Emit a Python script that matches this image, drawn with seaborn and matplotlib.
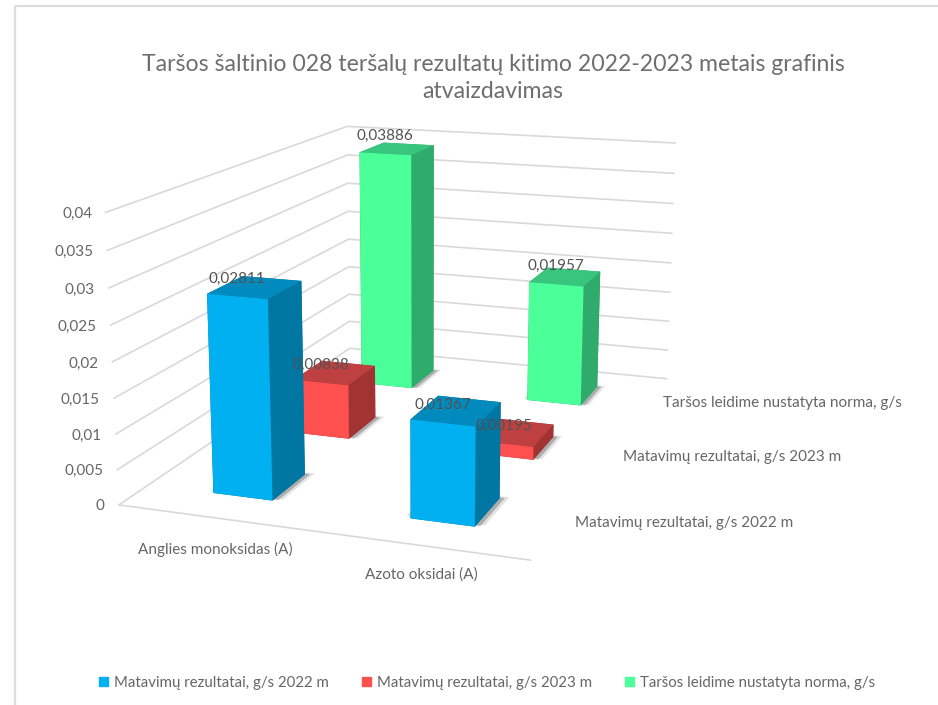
import numpy as np
import pandas as pd
import matplotlib
matplotlib.use('Agg')
import matplotlib.pyplot as plt
from matplotlib.lines import Line2D
from matplotlib.patches import Patch
from mpl_toolkits.mplot3d import Axes3D, proj3d
from mpl_toolkits.mplot3d.art3d import Poly3DCollection
import seaborn as sns

# data
categories = ['Anglies monoksidas (A)', 'Azoto oksidai (A)']
series = ['Matavimų rezultatai, g/s 2022 m', 'Matavimų rezultatai, g/s 2023 m',
          'Taršos leidime nustatyta norma, g/s']
values_2022 = [0.02811, 0.01367]
values_2023 = [0.00838, 0.00195]
values_norm = [0.03886, 0.01957]
z_ticks = [0, 0.005, 0.01, 0.015, 0.02, 0.025, 0.03, 0.035, 0.04]
z_labels = ['0', '0,005', '0,01', '0,015', '0,02', '0,025', '0,03', '0,035', '0,04']
title = 'Taršos šaltinio 028 teršalų rezultatų kitimo 2022-2023 metais grafinis\natvaizdavimas'

W, H = 938, 705
bar_w, bar_d = 0.3084, 0.3975

sns.set_theme(style='white')
plt.rcParams['font.family'] = ['Lato', 'DejaVu Sans']
front = sns.color_palette(['#00B0F0', '#FF5050', '#4BFF99'])
top = sns.color_palette(['#008ABD', '#BF4040', '#38C57D'])
side = sns.color_palette(['#0076A3', '#A23333', '#2FAB6B'])
grey = '#666666'


def put(x, y, s, **kw):
    # text placed in picture pixels
    fig.text(x / W, 1 - y / H, s, color=grey, va='center', **kw)


fig = plt.figure(figsize=(W / 100, H / 100), dpi=100)
ax = fig.add_axes([58.3146 / W, 33.0467 / H, 711.2365 / W, 711.2365 / H], projection='3d', computed_zorder=False)
ax.set_xlim(0, 2, view_margin=0)
ax.set_ylim(0, 3, view_margin=0)
ax.set_zlim(0, 0.04, view_margin=0)
ax.view_init(elev=14.1253, azim=-70.5851)
ax.set_proj_type('persp', focal_length=0.4412)
ax.set_box_aspect((1, 1.4501, 0.6956))
ax.set_axis_off()

# chart frame
fig.add_artist(Line2D([14.5 / W, 14.5 / W, 1], [0, 1 - 6 / H, 1 - 6 / H], color='#DDDDDD', lw=1.6))

# walls and floor edge
line = dict(color='#D9D9D9', lw=1.2, zorder=1)
for z in z_ticks:
    ax.plot([0, 0, 2], [0, 3, 3], [z, z, z], **line)
ax.plot([0, 2], [0, 0], [0, 0], **line)

df = pd.DataFrame({'category': np.tile(range(2), 3), 'row': np.repeat(range(3), 2),
                   'value': values_2022 + values_2023 + values_norm})

z = 2
for r in df.sort_values(['row', 'category'], ascending=[False, True]).itertuples():
    x0 = r.category + .5 - bar_w / 2
    y0 = r.row + .5 - bar_d / 2
    # soft shadow on the floor
    for grow, alpha in ((.035, .14), (.018, .3)):
        sx0, sx1 = x0 - grow, x0 + bar_w + grow
        sy0, sy1 = y0 + grow, y0 + bar_d + grow
        ax.add_collection3d(Poly3DCollection([[(sx0, sy0, 0), (sx1, sy0, 0), (sx1, sy1, 0), (sx0, sy1, 0)]],
                                             facecolors=(.2, .2, .2, alpha), linewidths=0, zorder=z))
    z += 1
    # -z, +z, -y, +y, -x, +x
    colors = [side[r.row], top[r.row], front[r.row], side[r.row], side[r.row], side[r.row]]
    ax.bar3d(x0, y0, 0, bar_w, bar_d, r.value, color=colors, shade=False, linewidth=0, zorder=z)
    z += 1

# value labels sit just above the front top edge of each bar
M = ax.get_proj()
for r in df.itertuples():
    x2, y2, _ = proj3d.proj_transform(r.category + .5, r.row + .5 - bar_d / 2, r.value, M)
    ax.annotate(('%.5f' % r.value).replace('.', ','), (x2, y2), xytext=(0, 11), textcoords='offset pixels',
                ha='center', va='bottom', fontsize=11, color='#525252', zorder=50)

# axis texts
z_label_right = [104, 103, 102, 99, 99, 96, 95, 93, 93]
for tick, lab, right in zip(z_ticks, z_labels, z_label_right):
    x2, y2, _ = proj3d.proj_transform(0, 0, tick, M)
    px = ax.transData.transform((x2, y2))
    put(right, H - px[1] + 1.5, lab, ha='right', fontsize=11)
put(215, 549.5, categories[0], ha='center', fontsize=11)
put(421, 574.5, categories[1], ha='center', fontsize=11)
put(575, 522.5, series[0], ha='left', fontsize=11)
put(623, 456.5, series[1], ha='left', fontsize=11)
put(663, 403.5, series[2], ha='left', fontsize=11)

fig.text(493 / W, 1 - 78 / H, title, ha='center', va='center', fontsize=16.6, color='#6E6E6E', linespacing=1.4)
handles = [Patch(color=c) for c in front]
fig.legend(handles, series, ncol=3, loc='center', bbox_to_anchor=(487 / W, 1 - 683 / H), frameon=False,
           fontsize=10.8, labelcolor=grey, handlelength=.6, handleheight=.6, handletextpad=.4, columnspacing=2.2)
fig.savefig('out.png', dpi=100)
